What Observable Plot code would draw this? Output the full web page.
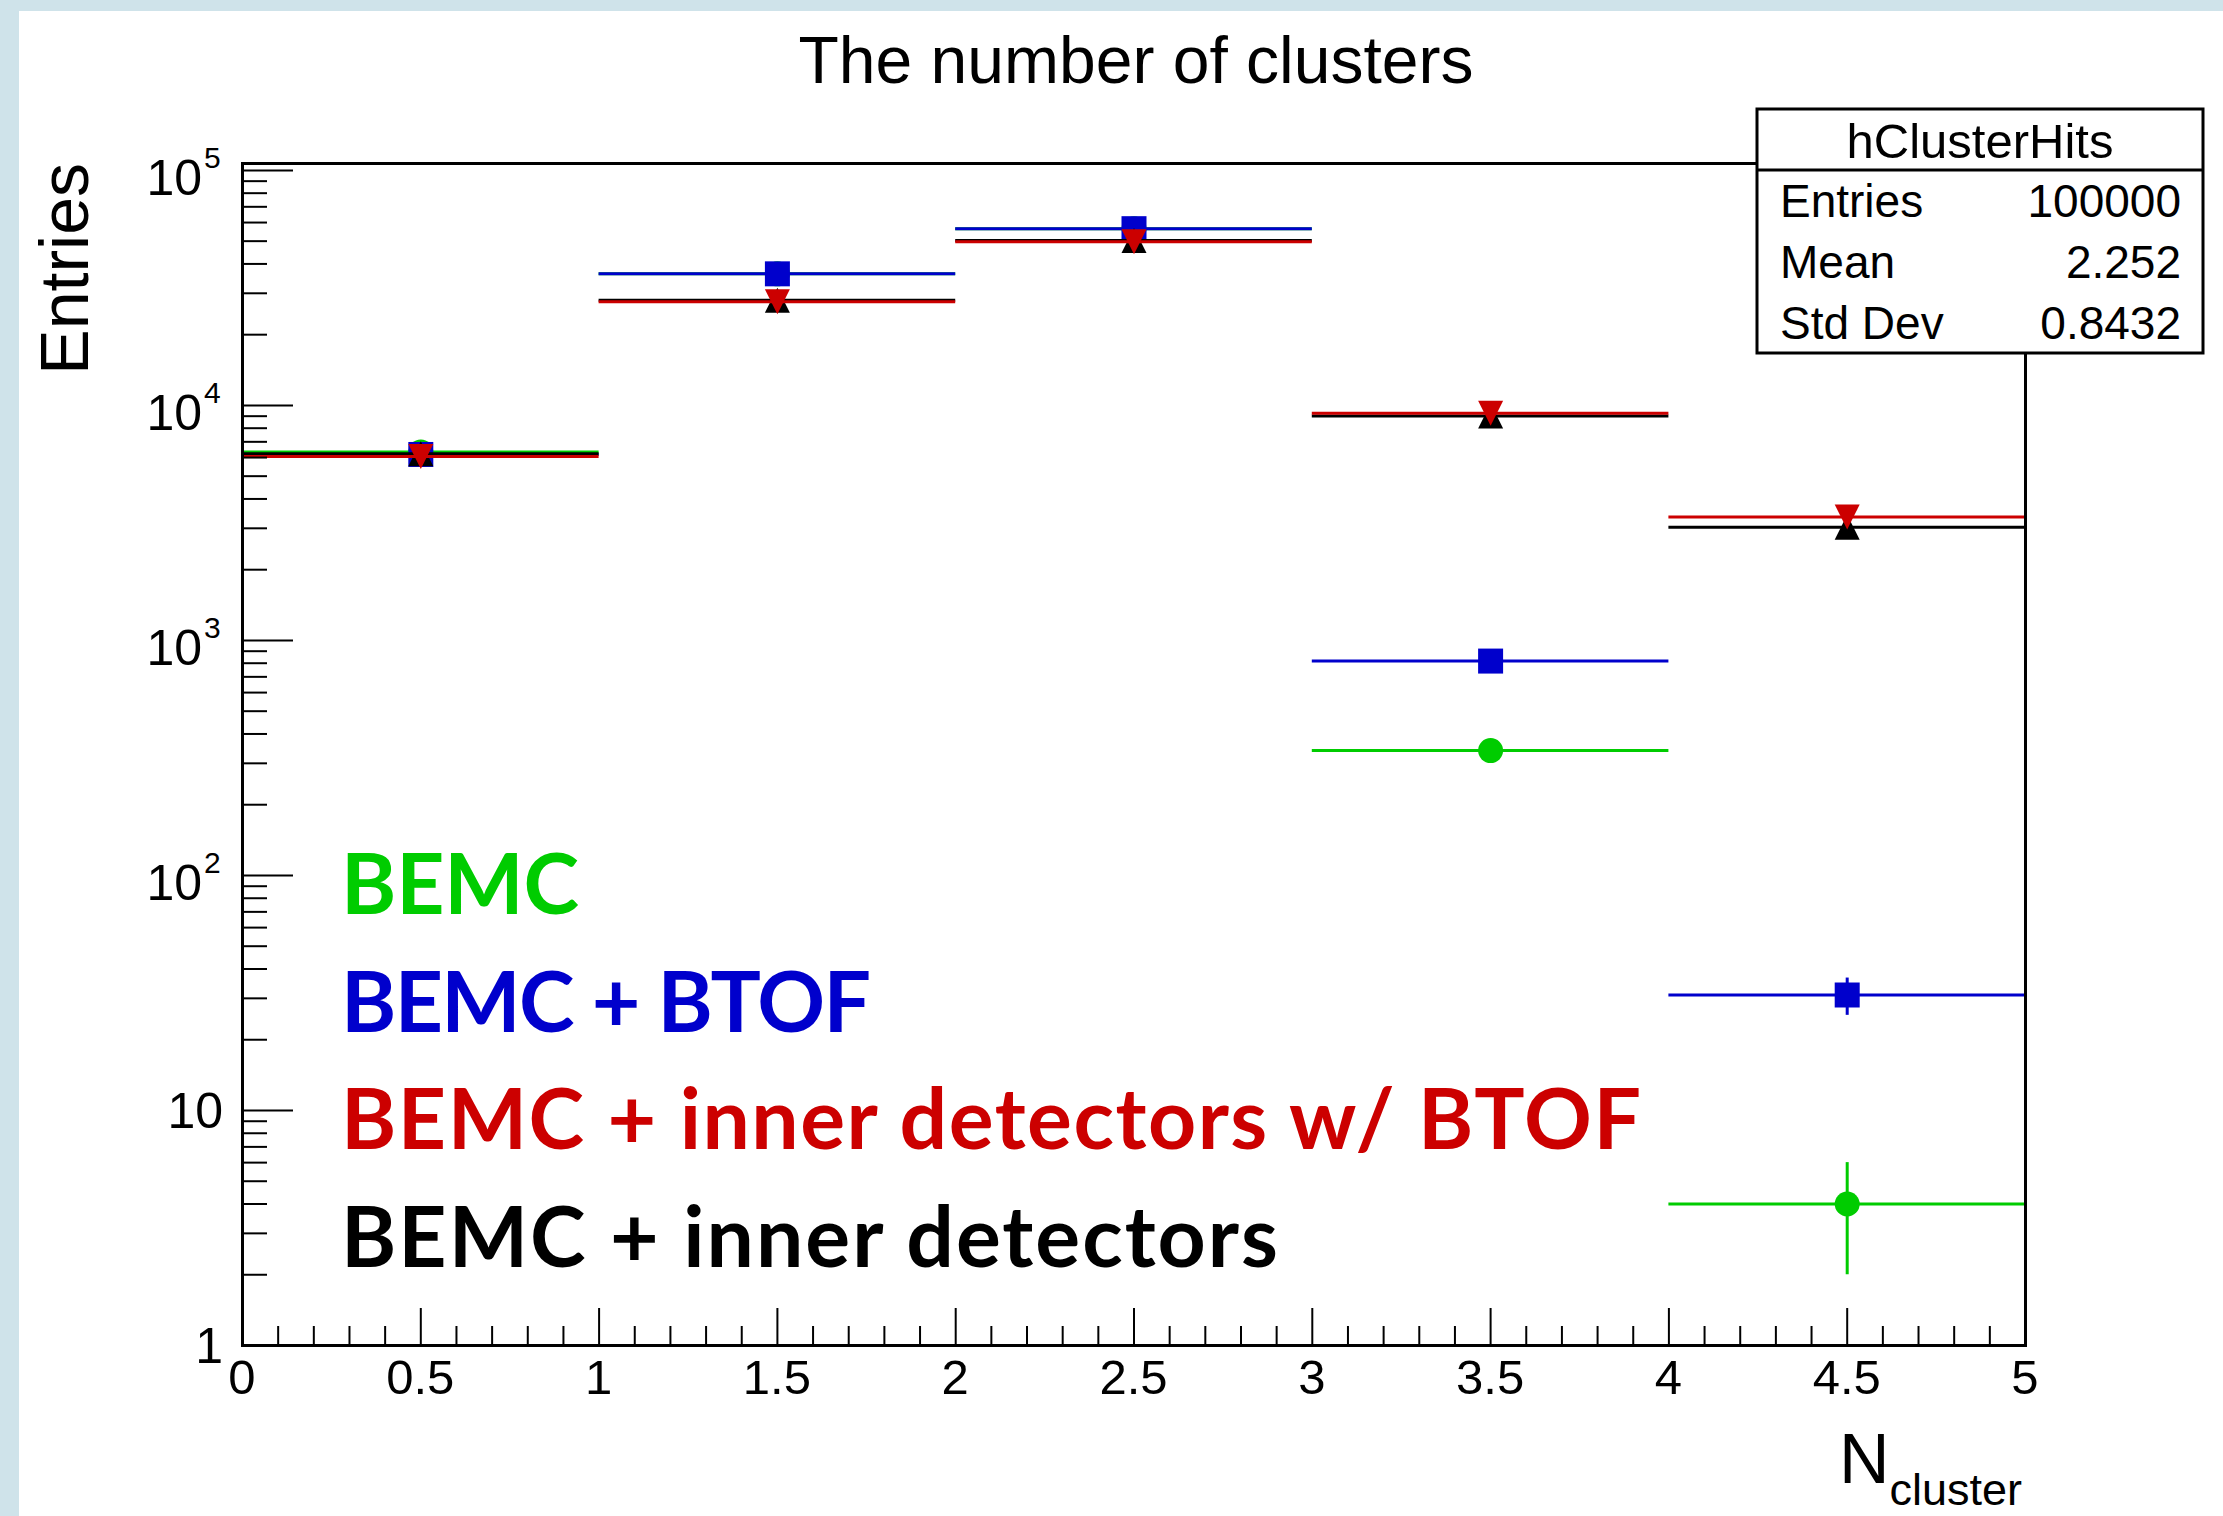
<!DOCTYPE html>
<html><head><meta charset="utf-8">
<script src="https://cdn.jsdelivr.net/npm/d3@7"></script>
<script src="https://cdn.jsdelivr.net/npm/@observablehq/plot@0.6"></script>
<style>
html,body{margin:0;padding:0;background:#cfe3ea;overflow:hidden;width:2223px;height:1516px}
#page{position:absolute;left:19px;top:11px;width:2204px;height:1505px;background:#fff}
#chart{position:absolute;left:0;top:0}
</style></head><body>
<div id="page"></div>
<div id="chart"></div>
<script>
// ---- data ----
const binLow = [0, 1, 2, 3, 4];
const binHigh = [1, 2, 3, 4, 5];
const binCenter = [0.5, 1.5, 2.5, 3.5, 4.5];

const bemc = [6330, 36300, 56500, 340, 4];
const bemcErr = [80, 191, 238, 18, 2];
const bemcBtof = [6185, 36300, 56500, 817, 31];
const bemcBtofErr = [79, 191, 238, 29, 5.6];
const bemcInner = [6230, 28000, 50300, 9010, 3035];
const bemcInnerErr = [79, 167, 224, 95, 55];
const bemcInnerBtof = [6070, 27600, 49700, 9270, 3350];
const bemcInnerBtofErr = [78, 166, 223, 96, 58];

const seriesNames = ["BEMC", "BEMC + BTOF", "BEMC + inner detectors", "BEMC + inner detectors w/ BTOF"];
const seriesColors = ["#00cc00", "#0000cc", "#000000", "#cc0000"];
const seriesSymbols = ["circle", "square", "triangleUp", "triangleDown"];
const legendOrder = ["BEMC", "BEMC + BTOF", "BEMC + inner detectors w/ BTOF", "BEMC + inner detectors"];

const xTickMajor = [0, 0.5, 1, 1.5, 2, 2.5, 3, 3.5, 4, 4.5, 5];
const xTickLabels = ["0", "0.5", "1", "1.5", "2", "2.5", "3", "3.5", "4", "4.5", "5"];
const yTickMajor = [1, 10, 100, 1000, 10000, 100000];
const yTickBase = ["1", "10", "10", "10", "10", "10"];
const yTickExp = ["", "", "2", "3", "4", "5"];

const titleText = "The number of clusters";
const xTitleMain = "N";
const xTitleSub = "cluster";
const yTitle = "Entries";
const statsTitle = "hClusterHits";
const statsNames = ["Entries", "Mean", "Std Dev"];
const statsValues = ["100000", "2.252", "0.8432"];

// ---- derived tick lists ----
const xTickMinor = d3.range(0, 51).map(i => i / 10).filter(v => Math.abs(v * 2 - Math.round(v * 2)) > 1e-6);
const yTickMinor = [];
for (let e = 0; e < 5; e++) for (let m = 2; m <= 9; m++) yTickMinor.push(m * Math.pow(10, e));

// ---- layout ----
const W = 2223, H = 1516;
const mL = 242, mR = 198, mT = 163, mB = 171;
const FW = W - mL - mR, FH = H - mT - mB;

const symbols = {
  circle: {draw(c, s) { const r = Math.sqrt(s / Math.PI); c.moveTo(r, 0); c.arc(0, 0, r, 0, 2 * Math.PI); c.closePath(); }},
  square: {draw(c, s) { const r = Math.sqrt(s / Math.PI); c.rect(-r, -r, 2 * r, 2 * r); }},
  triangleUp: {draw(c, s) { const r = Math.sqrt(s / Math.PI); c.moveTo(0, -r); c.lineTo(r, r); c.lineTo(-r, r); c.closePath(); }},
  triangleDown: {draw(c, s) { const r = Math.sqrt(s / Math.PI); c.moveTo(0, r); c.lineTo(r, -r); c.lineTo(-r, -r); c.closePath(); }}
};

const allValues = [bemc, bemcBtof, bemcInner, bemcInnerBtof];
const allErrs = [bemcErr, bemcBtofErr, bemcInnerErr, bemcInnerBtofErr];
// draw order as in the reference: green, blue, black, red
const drawOrder = [0, 1, 2, 3];

const marks = [];
for (const si of drawOrder) {
  const rows = binCenter.map((c, i) => ({lo: binLow[i], hi: binHigh[i], c, v: allValues[si][i], e: allErrs[si][i]}));
  const col = seriesColors[si];
  marks.push(Plot.ruleY(rows, {x1: "lo", x2: "hi", y: "v", stroke: col, strokeWidth: 3}));
  marks.push(Plot.ruleX(rows, {x: "c", y1: d => d.v - d.e, y2: d => d.v + d.e, stroke: col, strokeWidth: 3}));
  marks.push(Plot.dot(rows, {x: "c", y: "v", r: 12.5, symbol: symbols[seriesSymbols[si]], fill: col, stroke: "none"}));
}
// ticks (inward, ROOT style)
marks.push(Plot.tickX(xTickMinor, {x: d => d, insetTop: FH - 19, stroke: "black", strokeWidth: 2}));
marks.push(Plot.tickX(xTickMajor, {x: d => d, insetTop: FH - 37, stroke: "black", strokeWidth: 2}));
marks.push(Plot.tickY(yTickMinor, {y: d => d, insetRight: FW - 25, stroke: "black", strokeWidth: 2}));
marks.push(Plot.tickY(yTickMajor, {y: d => d, insetRight: FW - 51, stroke: "black", strokeWidth: 2}));
marks.push(Plot.frame({stroke: "black", strokeWidth: 3}));

const plot = Plot.plot({
  width: W, height: H,
  marginLeft: mL, marginRight: mR, marginTop: mT, marginBottom: mB,
  x: {domain: [0, 5], axis: null},
  y: {type: "log", domain: [1, 1.07e5], axis: null},
  style: {background: "transparent", overflow: "visible", fontFamily: "'Liberation Sans', Arial, Helvetica, sans-serif", maxWidth: "none"},
  marks
});
document.getElementById("chart").appendChild(plot);

const xs = plot.scale("x"), ys = plot.scale("y");
const svg = d3.select(plot);
const FONT = "'Liberation Sans', Arial, Helvetica, sans-serif";
const g = svg.append("g").attr("font-family", FONT).attr("fill", "black").attr("text-anchor", "start");

// x tick labels
xTickMajor.forEach((v, i) => {
  g.append("text").attr("x", xs.apply(v)).attr("y", H - mB + 49)
    .attr("text-anchor", "middle").attr("font-size", 49).text(xTickLabels[i]);
});
// y tick labels
yTickMajor.forEach((v, i) => {
  const y = ys.apply(v);
  if (yTickExp[i]) {
    g.append("text").attr("x", mL - 40).attr("y", y + 25).attr("text-anchor", "end").attr("font-size", 50).text(yTickBase[i]);
    g.append("text").attr("x", mL - 38).attr("y", y - 2).attr("text-anchor", "start").attr("font-size", 30).text(yTickExp[i]);
  } else {
    g.append("text").attr("x", mL - 19).attr("y", y + 18).attr("text-anchor", "end").attr("font-size", 50).text(yTickBase[i]);
  }
});

// title
g.append("text").attr("x", 1136).attr("y", 83).attr("text-anchor", "middle").attr("font-size", 66).text(titleText);
// y title
g.append("text").attr("transform", `translate(88,${mT}) rotate(-90)`).attr("text-anchor", "end").attr("font-size", 68).text(yTitle);
// x title
const xt = g.append("text").attr("x", W - mR - 3).attr("y", 1483).attr("text-anchor", "end");
xt.append("tspan").attr("font-size", 70).text(xTitleMain);
xt.append("tspan").attr("font-size", 45).attr("dy", 22).text(xTitleSub);

// stats box
const bx0 = 1757, bx1 = 2203, by0 = 109, by1 = 353, bdiv = 170;
g.append("rect").attr("x", bx0).attr("y", by0).attr("width", bx1 - bx0).attr("height", by1 - by0)
  .attr("fill", "white").attr("stroke", "black").attr("stroke-width", 3);
g.append("line").attr("x1", bx0).attr("x2", bx1).attr("y1", bdiv).attr("y2", bdiv).attr("stroke", "black").attr("stroke-width", 3);
g.append("text").attr("x", (bx0 + bx1) / 2).attr("y", 158).attr("text-anchor", "middle").attr("font-size", 49).text(statsTitle);
statsNames.forEach((n, i) => {
  const y = 217 + i * 61;
  g.append("text").attr("x", 1780).attr("y", y).attr("text-anchor", "start").attr("font-size", 46).text(n);
  g.append("text").attr("x", 2181).attr("y", y).attr("text-anchor", "end").attr("font-size", 46).text(statsValues[i]);
});

// legend-like labels (widths matched to the reference)
const legendWidths = [238, 530, 1300, 937];
const lg = svg.append("g").attr("font-family", "Lato, 'Open Sans', sans-serif").attr("font-weight", 700).attr("font-size", 84).attr("text-anchor", "start");
legendOrder.forEach((name, i) => {
  const si = seriesNames.indexOf(name);
  lg.append("text").attr("x", 341).attr("y", 914 + i * 117.7).attr("text-anchor", "start")
    .attr("textLength", legendWidths[i]).attr("lengthAdjust", "spacing")
    .attr("fill", seriesColors[si]).text(name);
});
</script>
</body></html>
